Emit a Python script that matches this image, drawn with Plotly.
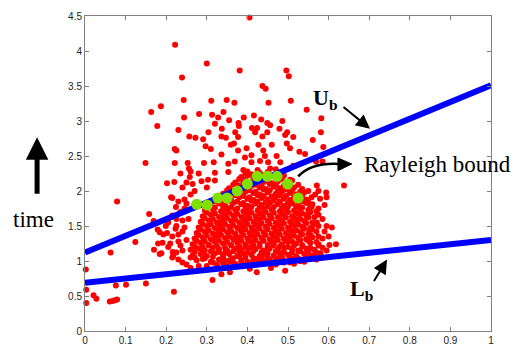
import plotly.graph_objects as go

# ---------------- data ----------------
x_tick_vals = [0, 0.1, 0.2, 0.3, 0.4, 0.5, 0.6, 0.7, 0.8, 0.9, 1]
x_tick_text = ["0", "0.1", "0.2", "0.3", "0.4", "0.5", "0.6", "0.7", "0.8", "0.9", "1"]
y_tick_vals = [0, 0.5, 1, 1.5, 2, 2.5, 3, 3.5, 4, 4.5]
y_tick_text = ["0", "0.5", "1", "1.5", "2", "2.5", "3", "3.5", "4", "4.5"]

# sparse red points (outliers / fringe)
red_sparse_x = [
    0.405, 0.222, 0.300, 0.381, 0.496, 0.502, 0.239, 0.437, 0.445, 0.243, 0.311, 0.349, 0.368, 0.452, 0.507,
    0.187, 0.163, 0.546, 0.582, 0.281, 0.313, 0.341, 0.244, 0.328, 0.355, 0.391, 0.416, 0.434, 0.378, 0.379,
    0.449, 0.456, 0.486, 0.320, 0.178, 0.230, 0.337, 0.411, 0.424, 0.479, 0.581, 0.304, 0.370, 0.419, 0.449,
    0.498,
    0.221, 0.225, 0.149, 0.221, 0.202, 0.220, 0.212, 0.079, 0.224, 0.158, 0.169, 0.199, 0.179, 0.184, 0.193,
    0.202, 0.223, 0.124, 0.180, 0.191, 0.063, 0.170, 0.184, 0.188, 0.216, 0.217, 0.002, 0.076, 0.101, 0.150,
    0.219, 0.003, 0.021, 0.028, 0.003, 0.061, 0.068, 0.074, 0.079,
    0.257, 0.272, 0.336, 0.347, 0.377, 0.437, 0.291, 0.297, 0.310, 0.359, 0.367, 0.377, 0.398, 0.427, 0.439,
    0.336, 0.394, 0.410, 0.253, 0.293, 0.317, 0.353, 0.369, 0.410, 0.431, 0.443, 0.256, 0.235, 0.320, 0.353,
    0.390, 0.287, 0.303, 0.320, 0.258, 0.410,
    0.493, 0.513, 0.460, 0.497, 0.505, 0.472, 0.451, 0.481, 0.456, 0.513,
    0.561, 0.587, 0.528, 0.542, 0.569, 0.585, 0.638, 0.571, 0.594, 0.567, 0.550, 0.558, 0.579, 0.595, 0.558,
    0.575, 0.550, 0.575, 0.595, 0.608, 0.571, 0.554,
    0.602, 0.618, 0.546, 0.550, 0.493, 0.458,
    0.314, 0.336, 0.357, 0.406, 0.423,
    0.23, 0.24, 0.25, 0.23, 0.245, 0.255, 0.235, 0.25, 0.26, 0.24, 0.265, 0.21, 0.205, 0.215, 0.235, 0.26,
    0.25, 0.225, 0.27, 0.28, 0.30, 0.245,
    0.215, 0.225, 0.205, 0.23, 0.215, 0.24, 0.225, 0.24, 0.215, 0.245, 0.23, 0.25, 0.26, 0.24, 0.26, 0.28,
    0.585, 0.595, 0.60, 0.59, 0.585, 0.59, 0.575,
]
red_sparse_y = [
    4.48, 4.09, 3.82, 3.72, 3.72, 3.64, 3.62, 3.50, 3.46, 3.30, 3.29, 3.30, 3.26, 3.26, 3.29,
    3.21, 3.13, 3.16, 3.04, 3.10, 3.09, 3.13, 3.05, 3.05, 3.01, 3.05, 3.08, 3.02, 2.97, 2.93,
    2.97, 2.94, 3.00, 2.96, 2.93, 2.87, 2.89, 2.90, 2.90, 2.89, 2.84, 2.84, 2.84, 2.84, 2.84,
    2.84,
    2.60, 2.58, 2.40, 2.40, 2.11, 2.13, 1.91, 1.85, 1.77, 1.67, 1.57, 1.50, 1.45, 1.41, 1.38,
    1.40, 1.46, 1.27, 1.25, 1.26, 1.12, 1.16, 1.10, 1.11, 1.13, 1.07, 0.88, 0.65, 0.66, 0.68,
    0.56, 0.59, 0.51, 0.46, 0.40, 0.42, 0.43, 0.44, 0.45,
    2.78, 2.76, 2.78, 2.76, 2.77, 2.78, 2.74, 2.64, 2.60, 2.66, 2.68, 2.58, 2.61, 2.66, 2.58,
    2.52, 2.48, 2.51, 2.40, 2.40, 2.41, 2.39, 2.42, 2.41, 2.43, 2.50, 2.32, 2.25, 2.26, 2.27,
    2.30, 2.14, 2.16, 2.15, 2.20, 2.23,
    2.80, 2.77, 2.66, 2.68, 2.61, 2.50, 2.41, 2.41, 2.32, 2.36,
    2.73, 2.63, 2.56, 2.53, 2.42, 2.42, 2.08, 2.08, 1.98, 1.95, 2.00, 1.91, 1.89, 1.91, 1.77,
    1.75, 1.68, 1.66, 1.50, 1.48, 1.55, 1.45,
    1.23, 1.24, 1.31, 1.15, 0.86, 0.90,
    0.73, 0.81, 0.84, 0.89, 0.84,
    1.02, 1.15, 1.30, 1.38, 1.48, 1.60, 1.70, 1.82, 1.95, 2.05, 2.10, 1.25, 1.55, 1.90, 1.22, 1.05,
    0.95, 1.60, 2.00, 2.25, 2.05, 1.88,
    1.05, 1.12, 1.20, 1.28, 1.35, 1.42, 1.50, 1.58, 1.65, 1.75, 1.85, 2.12, 2.28, 0.98, 0.90, 0.93,
    1.05, 1.15, 1.35, 1.42, 1.60, 1.80, 2.00,
]

# dense red cluster (estimated row by row)
red_core_x = [
    0.30, 0.325, 0.35, 0.37, 0.395, 0.42, 0.445, 0.47, 0.49, 0.515, 0.54,
    0.275, 0.29, 0.31, 0.33, 0.35, 0.365, 0.385, 0.40, 0.42, 0.44, 0.455, 0.475, 0.49, 0.51, 0.53, 0.55, 0.57,
    0.265, 0.285, 0.30, 0.32, 0.34, 0.355, 0.375, 0.39, 0.41, 0.43, 0.445, 0.465, 0.48, 0.50, 0.52, 0.54, 0.56, 0.58,
    0.26, 0.28, 0.295, 0.315, 0.33, 0.35, 0.37, 0.385, 0.405, 0.42, 0.44, 0.455, 0.475, 0.49, 0.51, 0.525, 0.545, 0.565, 0.585,
    0.265, 0.285, 0.305, 0.32, 0.34, 0.36, 0.375, 0.395, 0.41, 0.43, 0.45, 0.465, 0.485, 0.50, 0.52, 0.535, 0.555, 0.575,
    0.27, 0.29, 0.31, 0.325, 0.345, 0.365, 0.38, 0.40, 0.415, 0.435, 0.455, 0.47, 0.49, 0.505, 0.525, 0.545, 0.56, 0.585,
    0.275, 0.295, 0.315, 0.33, 0.35, 0.37, 0.385, 0.405, 0.42, 0.44, 0.46, 0.475, 0.495, 0.51, 0.53, 0.55, 0.57,
    0.28, 0.30, 0.32, 0.335, 0.355, 0.375, 0.39, 0.41, 0.425, 0.445, 0.465, 0.48, 0.50, 0.515, 0.535, 0.555, 0.575,
    0.285, 0.305, 0.325, 0.34, 0.36, 0.38, 0.395, 0.415, 0.43, 0.45, 0.47, 0.485, 0.505, 0.52, 0.54, 0.56,
    0.29, 0.31, 0.33, 0.345, 0.365, 0.385, 0.40, 0.42, 0.435, 0.455, 0.475, 0.49, 0.51, 0.525, 0.545, 0.565,
    0.295, 0.315, 0.335, 0.35, 0.37, 0.39, 0.405, 0.425, 0.44, 0.46, 0.48, 0.495, 0.515, 0.53, 0.55, 0.57,
    0.31, 0.33, 0.345, 0.365, 0.385, 0.40, 0.42, 0.435, 0.455, 0.475, 0.49, 0.51, 0.525, 0.545, 0.56,
    0.325, 0.345, 0.36, 0.38, 0.40, 0.415, 0.435, 0.45, 0.47, 0.49, 0.505, 0.525, 0.545,
    0.34, 0.36, 0.38, 0.395, 0.415, 0.43, 0.45, 0.47, 0.485, 0.505, 0.52, 0.54,
    0.355, 0.375, 0.39, 0.41, 0.43, 0.445, 0.465, 0.48, 0.50, 0.515, 0.535,
    0.37, 0.39, 0.405, 0.425, 0.44, 0.46, 0.475, 0.495, 0.51,
    0.385, 0.40, 0.42, 0.44, 0.455, 0.475, 0.49,
    0.40, 0.425, 0.45, 0.47,
]
red_core_y = [
    0.93, 0.95, 0.92, 0.96, 0.94, 0.95, 0.97, 0.95, 0.98, 0.96, 0.99,
    1.01, 1.03, 0.99, 1.02, 1.00, 1.04, 1.01, 0.99, 1.03, 1.00, 1.02, 1.04, 1.01, 1.03, 1.00, 1.05, 1.02,
    1.08, 1.10, 1.07, 1.11, 1.08, 1.10, 1.07, 1.11, 1.09, 1.07, 1.10, 1.08, 1.11, 1.09, 1.07, 1.10, 1.08, 1.11,
    1.16, 1.18, 1.15, 1.19, 1.17, 1.15, 1.18, 1.16, 1.19, 1.17, 1.15, 1.18, 1.16, 1.19, 1.17, 1.15, 1.18, 1.16, 1.19,
    1.24, 1.26, 1.23, 1.27, 1.25, 1.23, 1.26, 1.24, 1.27, 1.25, 1.23, 1.26, 1.24, 1.27, 1.25, 1.23, 1.26, 1.24,
    1.32, 1.34, 1.31, 1.35, 1.33, 1.31, 1.34, 1.32, 1.35, 1.33, 1.31, 1.34, 1.32, 1.35, 1.33, 1.31, 1.34, 1.32,
    1.40, 1.42, 1.39, 1.43, 1.41, 1.39, 1.42, 1.40, 1.43, 1.41, 1.39, 1.42, 1.40, 1.43, 1.41, 1.39, 1.42,
    1.48, 1.50, 1.47, 1.51, 1.49, 1.47, 1.50, 1.48, 1.51, 1.49, 1.47, 1.50, 1.48, 1.51, 1.49, 1.47, 1.50,
    1.56, 1.58, 1.55, 1.59, 1.57, 1.55, 1.58, 1.56, 1.59, 1.57, 1.55, 1.58, 1.56, 1.59, 1.57, 1.55,
    1.64, 1.66, 1.63, 1.67, 1.65, 1.63, 1.66, 1.64, 1.67, 1.65, 1.63, 1.66, 1.64, 1.67, 1.65, 1.63,
    1.72, 1.74, 1.71, 1.75, 1.73, 1.71, 1.74, 1.72, 1.75, 1.73, 1.71, 1.74, 1.72, 1.75, 1.73, 1.71,
    1.80, 1.82, 1.79, 1.83, 1.81, 1.79, 1.82, 1.80, 1.83, 1.81, 1.79, 1.82, 1.80, 1.83, 1.81,
    1.88, 1.90, 1.87, 1.91, 1.89, 1.87, 1.90, 1.88, 1.91, 1.89, 1.87, 1.90, 1.88,
    1.96, 1.98, 1.95, 1.99, 1.97, 1.95, 1.98, 1.96, 1.99, 1.97, 1.95, 1.98,
    2.04, 2.06, 2.03, 2.07, 2.05, 2.03, 2.06, 2.04, 2.07, 2.05, 2.03,
    2.12, 2.14, 2.11, 2.15, 2.13, 2.11, 2.14, 2.12, 2.15,
    2.20, 2.22, 2.19, 2.23, 2.21, 2.19, 2.22,
    2.28, 2.30, 2.27, 2.31,
]

# in-between points filling the dense cluster
red_fill_x = [
    0.315, 0.34, 0.36, 0.385, 0.41, 0.43, 0.46, 0.48, 0.505, 0.53,
    0.27, 0.295, 0.315, 0.34, 0.36, 0.38, 0.395, 0.415, 0.435, 0.45, 0.47, 0.485, 0.505, 0.525, 0.545, 0.565,
    0.27, 0.29, 0.31, 0.33, 0.345, 0.365, 0.38, 0.40, 0.415, 0.435, 0.45, 0.47, 0.49, 0.51, 0.53, 0.55, 0.57,
    0.27, 0.29, 0.305, 0.325, 0.345, 0.36, 0.38, 0.395, 0.415, 0.43, 0.45, 0.465, 0.48, 0.50, 0.515, 0.535, 0.555, 0.575,
    0.275, 0.295, 0.315, 0.33, 0.35, 0.37, 0.385, 0.405, 0.42, 0.44, 0.46, 0.475, 0.495, 0.51, 0.53, 0.55, 0.57,
    0.28, 0.30, 0.32, 0.335, 0.355, 0.37, 0.39, 0.41, 0.425, 0.445, 0.465, 0.48, 0.50, 0.515, 0.535, 0.555, 0.575,
    0.285, 0.305, 0.325, 0.34, 0.36, 0.38, 0.395, 0.415, 0.43, 0.45, 0.47, 0.485, 0.505, 0.52, 0.54, 0.56,
    0.29, 0.31, 0.33, 0.345, 0.365, 0.385, 0.40, 0.42, 0.435, 0.455, 0.475, 0.49, 0.51, 0.525, 0.545, 0.565,
    0.295, 0.315, 0.335, 0.35, 0.37, 0.39, 0.405, 0.425, 0.44, 0.46, 0.48, 0.495, 0.515, 0.53, 0.55,
    0.30, 0.32, 0.34, 0.355, 0.375, 0.395, 0.41, 0.43, 0.445, 0.465, 0.485, 0.50, 0.52, 0.535, 0.555,
    0.305, 0.32, 0.34, 0.36, 0.375, 0.395, 0.41, 0.43, 0.45, 0.465, 0.485, 0.50, 0.52, 0.535, 0.555,
    0.32, 0.335, 0.355, 0.375, 0.39, 0.41, 0.425, 0.445, 0.465, 0.48, 0.50, 0.515, 0.535, 0.55,
    0.335, 0.35, 0.37, 0.39, 0.405, 0.425, 0.44, 0.46, 0.48, 0.495, 0.515, 0.535,
    0.35, 0.365, 0.385, 0.405, 0.42, 0.44, 0.455, 0.475, 0.495, 0.51, 0.53,
    0.365, 0.38, 0.40, 0.42, 0.435, 0.455, 0.47, 0.49, 0.505, 0.525,
    0.38, 0.395, 0.415, 0.435, 0.45, 0.47, 0.485, 0.505,
    0.395, 0.41, 0.43, 0.45, 0.465, 0.485,
]
red_fill_y = [
    0.98, 0.97, 0.99, 0.97, 0.98, 0.99, 0.97, 0.99, 0.98, 1.00,
    1.05, 1.04, 1.06, 1.05, 1.03, 1.06, 1.05, 1.04, 1.06, 1.05, 1.03, 1.06, 1.05, 1.04, 1.06, 1.05,
    1.13, 1.12, 1.14, 1.13, 1.12, 1.14, 1.13, 1.12, 1.14, 1.13, 1.11, 1.14, 1.13, 1.12, 1.14, 1.13, 1.12,
    1.21, 1.20, 1.22, 1.21, 1.19, 1.22, 1.21, 1.20, 1.22, 1.21, 1.19, 1.22, 1.21, 1.20, 1.22, 1.21, 1.19, 1.22,
    1.29, 1.28, 1.30, 1.29, 1.27, 1.30, 1.29, 1.28, 1.30, 1.29, 1.27, 1.30, 1.29, 1.28, 1.30, 1.29, 1.27,
    1.37, 1.36, 1.38, 1.37, 1.35, 1.38, 1.37, 1.36, 1.38, 1.37, 1.35, 1.38, 1.37, 1.36, 1.38, 1.37, 1.35,
    1.45, 1.44, 1.46, 1.45, 1.43, 1.46, 1.45, 1.44, 1.46, 1.45, 1.43, 1.46, 1.45, 1.44, 1.46, 1.45,
    1.53, 1.52, 1.54, 1.53, 1.51, 1.54, 1.53, 1.52, 1.54, 1.53, 1.51, 1.54, 1.53, 1.52, 1.54, 1.53,
    1.61, 1.60, 1.62, 1.61, 1.59, 1.62, 1.61, 1.60, 1.62, 1.61, 1.59, 1.62, 1.61, 1.60, 1.62,
    1.69, 1.68, 1.70, 1.69, 1.67, 1.70, 1.69, 1.68, 1.70, 1.69, 1.67, 1.70, 1.69, 1.68, 1.70,
    1.77, 1.76, 1.78, 1.77, 1.75, 1.78, 1.77, 1.76, 1.78, 1.77, 1.75, 1.78, 1.77, 1.76, 1.78,
    1.85, 1.84, 1.86, 1.85, 1.83, 1.86, 1.85, 1.84, 1.86, 1.85, 1.83, 1.86, 1.85, 1.84,
    1.93, 1.92, 1.94, 1.93, 1.91, 1.94, 1.93, 1.92, 1.94, 1.93, 1.91, 1.94,
    2.01, 2.00, 2.02, 2.01, 1.99, 2.02, 2.01, 2.00, 2.02, 2.01, 1.99,
    2.09, 2.08, 2.10, 2.09, 2.07, 2.10, 2.09, 2.08, 2.10, 2.09,
    2.17, 2.16, 2.18, 2.17, 2.15, 2.18, 2.17, 2.16,
    2.25, 2.24, 2.26, 2.25, 2.23, 2.26,
]

# green (Rayleigh bound) points
green_x = [0.275, 0.301, 0.327, 0.350, 0.375, 0.400, 0.424, 0.449, 0.473, 0.499, 0.525]
green_y = [1.81, 1.80, 1.90, 1.90, 2.00, 2.10, 2.21, 2.21, 2.21, 2.10, 1.90]

# bound lines
line_x = [0, 1]
ub_y = [1.12, 3.51]
lb_y = [0.69, 1.30]

# ---------------- figure ----------------
fig = go.Figure()
fig.add_trace(go.Scatter(x=red_sparse_x + red_core_x + red_fill_x,
                         y=red_sparse_y + red_core_y + red_fill_y, mode="markers",
                         marker=dict(color="#FF0000", size=6, line=dict(width=0)),
                         cliponaxis=False, hoverinfo="skip", showlegend=False))
fig.add_trace(go.Scatter(x=line_x, y=ub_y, mode="lines", line=dict(color="#0000FF", width=6),
                         hoverinfo="skip", showlegend=False))
fig.add_trace(go.Scatter(x=line_x, y=lb_y, mode="lines", line=dict(color="#0000FF", width=6),
                         hoverinfo="skip", showlegend=False))
fig.add_trace(go.Scatter(x=green_x, y=green_y, mode="markers",
                         marker=dict(color="#80E000", size=11, line=dict(width=0)),
                         hoverinfo="skip", showlegend=False))

serif = "Liberation Serif, Times New Roman, serif"
annotations = [
    dict(text="time", xref="paper", yref="paper", x=-0.126, y=0.355, xanchor="center", yanchor="middle",
         showarrow=False, font=dict(family=serif, size=23, color="black")),
    dict(text="", xref="paper", yref="paper", x=-0.118, y=0.615, ax=0, ay=58,
         showarrow=True, arrowhead=2, arrowsize=0.9, arrowwidth=5, arrowcolor="black"),
    dict(text="<b>U<sub>b</sub></b>", xref="x", yref="y", x=0.592, y=3.32, xanchor="center", yanchor="middle",
         showarrow=False, font=dict(family=serif, size=22, color="black")),
    dict(text="", xref="x", yref="y", x=0.702, y=2.89, ax=-28, ay=-23,
         showarrow=True, arrowhead=2, arrowsize=1.4, arrowwidth=2, arrowcolor="black"),
    dict(text="<b>L<sub>b</sub></b>", xref="x", yref="y", x=0.680, y=0.58, xanchor="center", yanchor="middle",
         showarrow=False, font=dict(family=serif, size=22, color="black")),
    dict(text="", xref="x", yref="y", x=0.744, y=1.02, ax=-14, ay=23,
         showarrow=True, arrowhead=2, arrowsize=1.4, arrowwidth=2, arrowcolor="black"),
    dict(text="Rayleigh bound", xref="x", yref="y", x=0.682, y=2.38, xanchor="left", yanchor="middle",
         showarrow=False, font=dict(family=serif, size=23, color="black")),
]

shapes = [
    dict(type="path", xref="x", yref="y", path="M 0.525,2.209 Q 0.559,2.414 0.628,2.386",
         line=dict(color="black", width=2.5)),
    dict(type="path", xref="x", yref="y", path="M 0.657,2.386 L 0.623,2.470 L 0.623,2.290 Z",
         fillcolor="black", line=dict(color="black", width=1)),
]

axis_common = dict(showgrid=False, zeroline=False, showline=True, linecolor="#808080", linewidth=1,
                   mirror="ticks", ticks="inside", ticklen=4, tickcolor="#808080", tickwidth=1,
                   tickfont=dict(family="Liberation Sans, Arial, sans-serif", size=10, color="#222222"))

fig.update_layout(
    width=520, height=356,
    margin=dict(l=85, r=29, t=10, b=16),
    paper_bgcolor="white", plot_bgcolor="white",
    xaxis=dict(range=[0, 1], tickmode="array", tickvals=x_tick_vals, ticktext=x_tick_text, **axis_common),
    yaxis=dict(range=[0, 4.5], tickmode="array", tickvals=y_tick_vals, ticktext=y_tick_text, **axis_common),
    annotations=annotations,
    shapes=shapes,
)

fig.write_html("out.html", config={"displayModeBar": False},
               post_script="document.body.style.margin='0';document.body.style.overflow='hidden';")
